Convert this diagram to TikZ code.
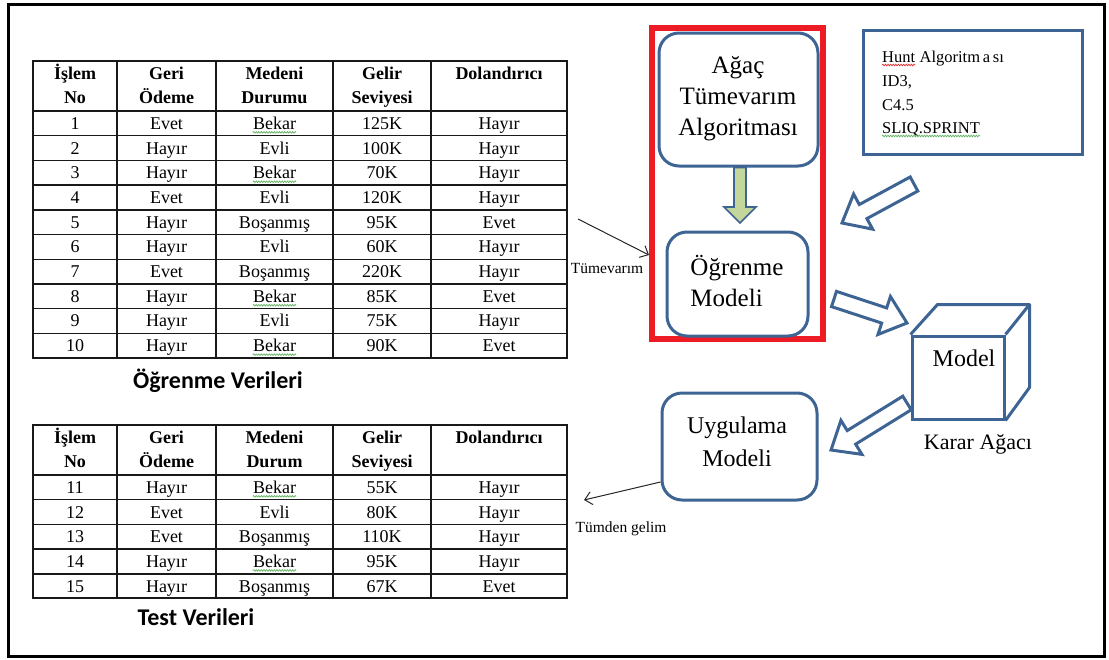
\documentclass[tikz,border=0pt]{standalone}
\usepackage{fontspec}
\setmainfont{Liberation Serif}
\newfontfamily\capfont{Carlito}
\usetikzlibrary{arrows.meta,decorations.pathmorphing,calc}
\definecolor{bbord}{HTML}{3E6494}
\definecolor{rframe}{HTML}{ED1C24}
\definecolor{gfill}{HTML}{C3D69B}
\definecolor{spellg}{HTML}{5DB35D}
\definecolor{spellr}{HTML}{E03030}
\tikzset{
  grid/.style={line width=1.4pt, black!90},
  hdr/.style={anchor=base, inner sep=0pt, font=\bfseries\fontsize{18}{22}\selectfont},
  cell/.style={anchor=base, inner sep=0pt, font=\fontsize{18}{22}\selectfont},
  caption/.style={font=\capfont\bfseries\fontsize{24}{28}\selectfont},
  rbox/.style={draw=bbord, line width=3pt, rounded corners=20pt, minimum width=#1},
  sqbox/.style={draw=bbord, line width=3pt},
  bigtext/.style={inner sep=0pt, font=\fontsize{25}{31}\selectfont},
  hollow/.style={draw=bbord, line width=3pt, fill=white, line join=miter},
  greenarrow/.style={draw=bbord, line width=1.6pt, fill=gfill},
  thinarrow/.style={line width=1pt, black!85, -{Straight Barb[length=7pt,width=13pt]}},
  smalltext/.style={inner sep=0pt, font=\fontsize{15.5}{18}\selectfont},
  htext/.style={inner sep=0pt, anchor=base west, font=\fontsize{16.5}{19}\selectfont},
  wavyg/.style={spellg, line width=0.7pt, decorate, decoration={snake, amplitude=0.8pt, segment length=2.6pt}},
  wavyr/.style={spellr, line width=0.7pt, decorate, decoration={snake, amplitude=0.8pt, segment length=2.6pt}},
}
\newcommand\blockarrow[6]{%
  \path let \p1=(#2), \p2=(#3) in \pgfextra{%
    \pgfmathsetmacro\baang{atan2(\y2-\y1,\x2-\x1)}%
    \pgfmathsetmacro\balen{veclen(\x2-\x1,\y2-\y1)}%
    \global\let\baangG\baang \global\let\balenG\balen};
  \draw[#1, shift={(#2)}, rotate=\baangG]
    (0,-#4) -- ({\balenG-#6},-#4) -- ({\balenG-#6},-#5) -- (\balenG,0)
    -- ({\balenG-#6},#5) -- ({\balenG-#6},#4) -- (0,#4) -- cycle;
}
\begin{document}
\begin{tikzpicture}[x=1pt,y=-1pt]
\useasboundingbox (0,0) rectangle (1109,659);
% outer frame
\draw[line width=3pt] (8.5,4.5) rectangle (1104,656);

% ---------- Table 1 ----------
\def\rh{24.7}
\draw[grid] (33,61) rectangle (567,358);
\foreach \x in {117,216,333,431} \draw[grid] (\x,61) -- (\x,358);
\foreach \i in {0,...,9} \draw[grid] (33,{111+\rh*\i}) -- (567,{111+\rh*\i});
\foreach \cx/\la/\lb [count=\k] in {75/İşlem/No, 166.5/Geri/Ödeme, 274.5/Medeni/Durumu, 382/Gelir/Seviyesi} {
  \node[hdr] (a-h\k a) at (\cx,79) {\la};
  \node[hdr] (a-h\k b) at (\cx,103) {\lb};
}
\node[hdr] (a-h5a) at (499,79) {Dolandırıcı};
\foreach \ca/\cb/\cc/\cd/\ce [count=\i] in {
  1/Evet/Bekar/125K/Hayır, 2/Hayır/Evli/100K/Hayır, 3/Hayır/Bekar/70K/Hayır,
  4/Evet/Evli/120K/Hayır, 5/Hayır/Boşanmış/95K/Evet, 6/Hayır/Evli/60K/Hayır,
  7/Evet/Boşanmış/220K/Hayır, 8/Hayır/Bekar/85K/Evet, 9/Hayır/Evli/75K/Hayır,
  10/Hayır/Bekar/90K/Evet} {
  \pgfmathsetmacro\yy{111+\rh*(\i-0.5)+6}
  \node[cell] (a-\i-1) at (75,\yy) {\ca};
  \node[cell] (a-\i-2) at (166.5,\yy) {\cb};
  \node[cell] (a-\i-3) at (274.5,\yy) {\cc};
  \node[cell] (a-\i-4) at (382,\yy) {\cd};
  \node[cell] (a-\i-5) at (499,\yy) {\ce};
}
\foreach \i in {1,3,8,10}
  \draw[wavyg] ([yshift=-3pt]a-\i-3.base west) -- ([yshift=-3pt]a-\i-3.base east);
\node[caption] (cap1) at (218,381) {Öğrenme Verileri};

% ---------- Table 2 ----------
\draw[grid] (33,425) rectangle (567,598);
\foreach \x in {117,216,333,431} \draw[grid] (\x,425) -- (\x,598);
\foreach \i in {0,...,4} \draw[grid] (33,{475+\rh*\i}) -- (567,{475+\rh*\i});
\foreach \cx/\la/\lb [count=\k] in {75/İşlem/No, 166.5/Geri/Ödeme, 274.5/Medeni/Durum, 382/Gelir/Seviyesi} {
  \node[hdr] (b-h\k a) at (\cx,443) {\la};
  \node[hdr] (b-h\k b) at (\cx,467) {\lb};
}
\node[hdr] (b-h5a) at (499,443) {Dolandırıcı};
\foreach \ca/\cb/\cc/\cd/\ce [count=\i] in {
  11/Hayır/Bekar/55K/Hayır, 12/Evet/Evli/80K/Hayır, 13/Evet/Boşanmış/110K/Hayır,
  14/Hayır/Bekar/95K/Hayır, 15/Hayır/Boşanmış/67K/Evet} {
  \pgfmathsetmacro\yy{475+\rh*(\i-0.5)+6}
  \node[cell] (b-\i-1) at (75,\yy) {\ca};
  \node[cell] (b-\i-2) at (166.5,\yy) {\cb};
  \node[cell] (b-\i-3) at (274.5,\yy) {\cc};
  \node[cell] (b-\i-4) at (382,\yy) {\cd};
  \node[cell] (b-\i-5) at (499,\yy) {\ce};
}
\foreach \i in {1,4}
  \draw[wavyg] ([yshift=-3pt]b-\i-3.base west) -- ([yshift=-3pt]b-\i-3.base east);
\node[caption] (cap2) at (196,617) {Test Verileri};

% ---------- Diagram ----------
\node[draw=rframe, line width=6pt, minimum width=171pt, minimum height=311pt] (learnframe) at (737.5,183.5) {};
\node[rbox=159pt, minimum height=133pt] (agac) at (738.5,99.5) {};
\node[bigtext, align=center] (agactext) at (738,99) {Ağaç\\Tümevarım\\Algoritması};
\node[rbox=141pt, minimum height=104pt] (ogr) at (737.5,284) {};
\node[bigtext, align=left] (ogrtext) at (737,281) {Öğrenme\\Modeli};

\coordinate (ga) at (agac.south -| 740,0);
\coordinate (gb) at (740,223);
\blockarrow{greenarrow}{ga}{gb}{6}{16}{16}

\node[sqbox, minimum width=219pt, minimum height=124pt] (hunt) at (972.5,92) {};
\node[htext] (hunt1) at (882,62) {Hunt};
\node[htext] (hunt2) at ([xshift=4pt]hunt1.base east) {Algoritm\,a\,sı};
\node[htext] (hunt3) at (882,86) {ID3,};
\node[htext] (hunt4) at (882,110) {C4.5};
\node[htext] (hunt5) at (882,133) {SLIQ.SPRINT};
\draw[wavyr] ([yshift=-3pt]hunt1.base west) -- ([yshift=-3pt]hunt1.base east);
\draw[wavyg] ([yshift=-3pt]hunt5.base west) -- ([yshift=-3pt]hunt5.base east);

% cube
\node[sqbox, minimum width=92pt, minimum height=83pt] (cube) at (958,377.5) {};
\draw[draw=bbord, line width=3pt, line join=round]
  (cube.north west) -- ++(27,-30) coordinate (cbl) -- ++(92,0) coordinate (cbr)
  -- ++(0,83) -- (cube.south east);
\draw[draw=bbord, line width=3pt, line join=round] (cube.north east) -- (cbr);
\node[bigtext, font=\fontsize{24}{28}\selectfont] (modeltext) at (964,358) {Model};
\node[bigtext, font=\fontsize{22}{26}\selectfont] (karar) at (978,444) {Karar Ağacı};

\node[rbox=155pt, minimum height=107pt] (uyg) at (739.5,446.5) {};
\node[bigtext, font=\fontsize{24}{33}\selectfont, align=center] (uygtext) at (737,441.5) {Uygulama\\Modeli};

% hollow block arrows
\coordinate (h1t) at (914,184); \coordinate (h1h) at (842,223);
\blockarrow{hollow}{h1t}{h1h}{8}{20}{24}
\coordinate (h2t) at (834,299); \coordinate (h2h) at (907,323);
\blockarrow{hollow}{h2t}{h2h}{8}{20}{24}
\coordinate (h3t) at (907,403); \coordinate (h3h) at (831,450);
\blockarrow{hollow}{h3t}{h3h}{8}{20}{24}

% thin arrows
\coordinate (ta) at (578,219);
\draw[thinarrow] (ta) -- (learnframe.west |- 0,255);
\node[smalltext] (tumev) at (607,268) {Tümevarım};
\coordinate (tb) at (584,500);
\draw[thinarrow] (uyg.west |- 0,482) -- (tb);
\node[smalltext] (tumden) at (621,529) {Tümden gelim};
\end{tikzpicture}
\end{document}
